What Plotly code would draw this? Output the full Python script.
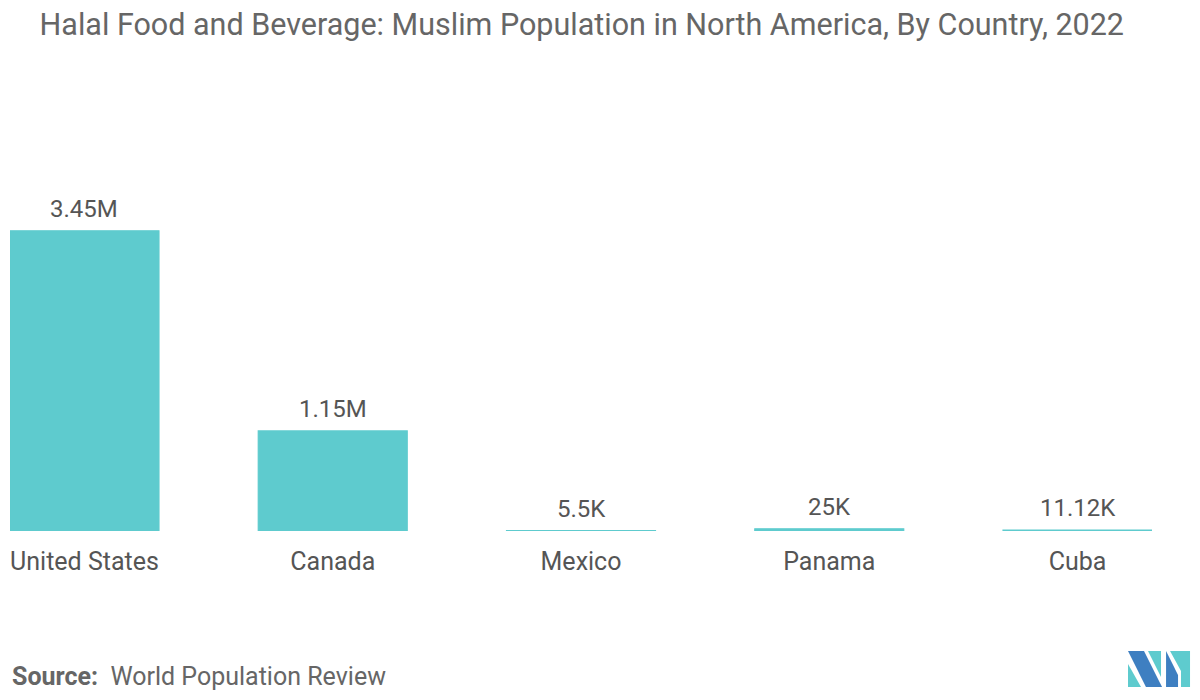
import plotly.graph_objects as go

countries = ["United States", "Canada", "Mexico", "Panama", "Cuba"]
population = [3450000, 1150000, 5500, 25000, 11120]
labels = ["3.45M", "1.15M", "5.5K", "25K", "11.12K"]

bar_color = "#5ECBCE"
text_color = "#555555"
font_family = "Roboto"

fig = go.Figure()
fig.add_trace(go.Bar(
    x=countries,
    y=population,
    width=0.6,
    marker=dict(color=bar_color, line=dict(color=bar_color, width=1.2)),
    hovertext=labels,
    hoverinfo="x+text",
))

value_annotations = [
    dict(x=c, y=v, xref="x", yref="y", text=t, showarrow=False,
         yanchor="middle", yshift=22,
         font=dict(family=font_family, size=24, color=text_color))
    for c, v, t in zip(countries, population, labels)
]

fig.update_layout(
    width=1200, height=700,
    paper_bgcolor="white", plot_bgcolor="white",
    margin=dict(l=10, r=48, t=183, b=169, autoexpand=False),
    showlegend=False,
    title=dict(
        text="Halal Food and Beverage: Muslim Population in North America, By Country, 2022",
        x=0.033, xanchor="left", y=0.965, yanchor="middle",
        font=dict(family=font_family, size=30.5, color="#666666"),
    ),
    xaxis=dict(
        range=[-0.3, 4.3], showgrid=False, zeroline=False, showline=False,
        ticks="outside", ticklen=8, tickcolor="rgba(0,0,0,0)",
        tickfont=dict(family=font_family, size=25, color=text_color),
        automargin=False,
    ),
    yaxis=dict(range=[0, 4000000], visible=False, showgrid=False, automargin=False),
    annotations=value_annotations + [
        dict(text="<b>Source:</b>  World Population Review", xref="paper", yref="paper",
             x=0.0, y=-0.417, xanchor="left", yanchor="middle", showarrow=False,
             font=dict(family=font_family, size=25, color="#666666")),
    ],
)

# Logo drawn in pixel-based paper coordinates
def px(xp):
    return (xp - 10) / 1142.0

def py(yp):
    return (531 - yp) / 348.0

logo = [
    ([(1128, 651), (1144, 651), (1162, 687), (1146, 687)], "#3E7FC1"),
    ([(1128, 664), (1128, 687), (1141, 687)], "#5ECBCE"),
    ([(1148, 651), (1161, 651), (1161, 677)], "#5ECBCE"),
    ([(1166, 651), (1178, 675), (1178, 687), (1166, 687)], "#3E7FC1"),
    ([(1170, 651), (1190, 651), (1190, 687), (1181, 687), (1181, 671)], "#5ECBCE"),
]
shapes = []
for pts, col in logo:
    path = "M " + " L ".join(f"{px(a):.4f} {py(b):.4f}" for a, b in pts) + " Z"
    shapes.append(dict(type="path", xref="paper", yref="paper", path=path,
                       fillcolor=col, line=dict(width=0), layer="above"))
fig.update_layout(shapes=shapes)

fig.write_html("out.html", config={"displayModeBar": False},
               post_script="document.body.style.margin='0';document.body.style.overflow='hidden';")
